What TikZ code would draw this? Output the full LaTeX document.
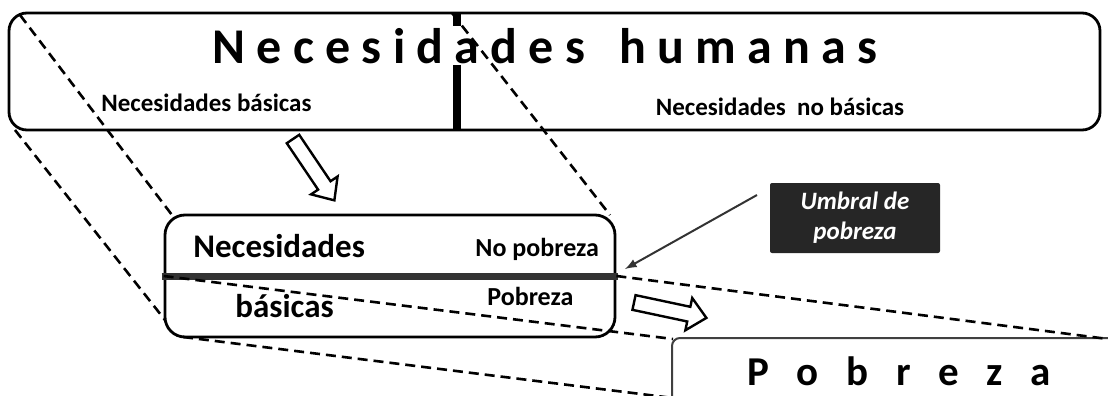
\documentclass[tikz,border=0pt]{standalone}
\usepackage{fontspec}
\setmainfont{Carlito}
\usetikzlibrary{positioning}

\definecolor{barra}{HTML}{333333}
\definecolor{umbralgris}{HTML}{262626}
\definecolor{bordegris}{HTML}{404040}

\newcommand{\hueco}{\hspace{13.8pt}}

\tikzset{
  caja/.style={draw, line width=1.4pt, rounded corners=9pt, inner sep=0pt},
  proy/.style={dash pattern=on 5pt off 3pt, line width=1.3pt},
  hueca/.style={draw, fill=white, line width=1.2pt, line join=miter},
  texto/.style={inner sep=0pt, font=\fontsize{#1}{#1}\selectfont\bfseries},
}

\begin{document}
\begin{tikzpicture}[x=0.5pt,y=-0.5pt,font=\bfseries]
\useasboundingbox (0,0) rectangle (1108,396);

% cajas
\node[caja, minimum width=545.5pt, minimum height=58.5pt] (humanas) at (554.5,71.5) {};
\draw[line width=4pt] (457,13) -- (457,130);
\node[texto=25, fill=white, inner sep=1pt, anchor=base] (titulo) at (545,63) {N e c e s i d a d e s \ \ h u m a n a s};
\node[texto=12.5, anchor=base west] (nbas) at (101,111) {Necesidades básicas};
\node[texto=12.5, anchor=base] (nnobas) at (780,115) {Necesidades \ no básicas};

\node[caja, rounded corners=10pt, minimum width=225pt, minimum height=61pt] (basicas) at (390,276) {};
\draw[barra, line width=3.5pt] ([xshift=-1pt]basicas.west) -- ([xshift=1pt]basicas.east);
\node[texto=16.5, anchor=base west] (necmed) at (193,257) {Necesidades};
\node[texto=16.5, anchor=base west] (basmed) at (235,317) {básicas};
\node[texto=13, anchor=base west] (nopob) at (475,256) {No pobreza};
\node[texto=13, anchor=base west] (pob) at (487,305) {Pobreza};

\node[fill=umbralgris, text=white, rounded corners=1pt, minimum width=85pt, minimum height=35pt, align=center,
  font=\fontsize{12.5}{15}\selectfont\bfseries\itshape] (umbral) at (855,218) {Umbral de\\pobreza};

\node[draw=bordegris, line width=1pt, rounded corners=4pt, inner sep=0pt, minimum width=234pt, minimum height=46pt] (pobrezacaja) at (906,384) {};
\node[texto=20.5, anchor=base west] (pobreza) at (747,385) {P\hueco o\hueco b\hueco r\hueco e\hueco z\hueco a};

% puntos de las proyecciones
\coordinate (h1) at (20,15);
\coordinate (h2) at (15,130);
\coordinate (h3) at (452,13);
\coordinate (m1) at (172,215);
\coordinate (m2) at (165,320);
\coordinate (m3) at (610,215);
\coordinate (m4) at (183,337);
\coordinate (p1) at (673,339);
\coordinate (p2) at (1108,339);
\coordinate (p3) at (673,398);

\draw[proy] (h1) -- (m1);
\draw[proy] (h2) -- (m2);
\draw[proy] (h3) -- (m3);
\draw[proy] (basicas.west) -- (p1);
\draw[proy] (basicas.east) -- (p2);
\draw[proy] (m4) -- (p3);

% flechas huecas
\begin{scope}[shift={(293,139)},rotate=-56]
\draw[hueca] (0,-7.5) -- (56,-7.5) -- (56,-16) -- (74,0) -- (56,16) -- (56,7.5) -- (0,7.5) -- cycle;
\end{scope}
\begin{scope}[shift={(634,302.5)},rotate=-12]
\draw[hueca] (0,-7.5) -- (56,-7.5) -- (56,-16.5) -- (74,0) -- (56,16.5) -- (56,7.5) -- (0,7.5) -- cycle;
\end{scope}

% umbral
\coordinate (umbralpie) at (757,195);
\coordinate (umbralpunta) at (625,269);
\draw[->, >=latex, barra, line width=1pt] (umbralpie) -- (umbralpunta);

\end{tikzpicture}
\end{document}
